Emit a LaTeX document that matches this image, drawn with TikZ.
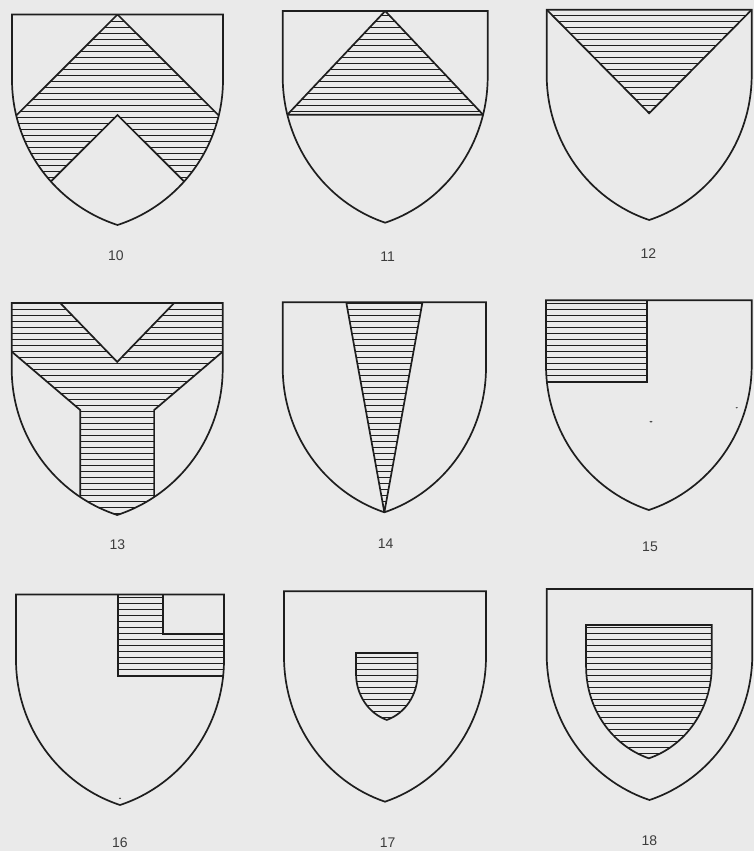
\documentclass[tikz,border=0pt]{standalone}
\usepackage{fontspec}
\setmainfont{Liberation Sans}
\definecolor{ink}{RGB}{30,30,30}
\definecolor{labelgray}{RGB}{60,60,60}
\definecolor{bg}{RGB}{234,234,234}
\newcommand\shieldclip[1]{\clip[#1] (-1,0) -- (-1,0.62) .. controls (-1,1.248) and (-0.597,1.8045) .. (0,2) .. controls (0.597,1.8045) and (1,1.248) .. (1,0.62) -- (1,0) -- cycle;}
\newcommand\shielddraw[1]{\draw[outline,#1] (-1,0) -- (-1,0.62) .. controls (-1,1.248) and (-0.597,1.8045) .. (0,2) .. controls (0.597,1.8045) and (1,1.248) .. (1,0.62) -- (1,0) -- cycle;}
\newcommand\hatchfill{\foreach \hy in {3.5,9.5,...,851}{\draw[hatchline] (0,\hy) -- (754,\hy);}}
\begin{document}
\begin{tikzpicture}[x=1pt,y=-1pt,
  outline/.style={draw=ink, line width=1.7pt, line join=miter},
  hatchline/.style={draw=ink, line width=1.2pt},
  lbl/.style={inner sep=0pt, font=\fontsize{14}{16}\selectfont, text=labelgray},
  speck/.style={fill=ink!80},
  s10/.style={shift={(117.5,14.5)}, xscale=105.5, yscale=105.25},
  s11/.style={shift={(385.2,11)}, xscale=102.5, yscale=105.85},
  s12/.style={shift={(649.2,9.7)}, xscale=102.5, yscale=105.15},
  s13/.style={shift={(117.2,303)}, xscale=105.5, yscale=106},
  s14/.style={shift={(384.35,302.2)}, xscale=101.65, yscale=105.05},
  s15/.style={shift={(648.85,300.3)}, xscale=102.85, yscale=104.85},
  s16/.style={shift={(120,594.5)}, xscale=104, yscale=105.25},
  s17/.style={shift={(385,591.2)}, xscale=101, yscale=105.25},
  s18/.style={shift={(649.5,589)}, xscale=102.8, yscale=105.5}]
\useasboundingbox (0,0) rectangle (754,851);
\fill[bg] (0,0) rectangle (754,851);

% ---------- 10: chevron ----------
\begin{scope}
  \shieldclip{s10}
  \begin{scope}
    \clip[s10] (0,0) -- (1.5,1.5) -- (1.5,2.455) -- (0,0.955) -- (-1.5,2.455) -- (-1.5,1.5) -- cycle;
    \hatchfill
  \end{scope}
  \draw[outline,s10] (-1.5,1.5) -- (0,0) -- (1.5,1.5) (1.5,2.455) -- (0,0.955) -- (-1.5,2.455);
\end{scope}
\shielddraw{s10}

% ---------- 11: triangle on chief line ----------
\begin{scope}
  \shieldclip{s11}
  \begin{scope}
    \clip[s11] (0,0) -- (-0.955,0.98) -- (0.955,0.98) -- cycle;
    \hatchfill
  \end{scope}
  \draw[outline,s11] (-0.955,0.98) -- (0,0) -- (0.955,0.98) (-1.2,0.98) -- (1.2,0.98);
\end{scope}
\shielddraw{s11}

% ---------- 12: inverted triangle ----------
\begin{scope}
  \shieldclip{s12}
  \begin{scope}
    \clip[s12] (-1,0) -- (0,0.985) -- (1,0) -- cycle;
    \hatchfill
  \end{scope}
  \draw[outline,s12] (-1,0) -- (0,0.985) -- (1,0);
\end{scope}
\shielddraw{s12}

% ---------- 13: pall ----------
\begin{scope}
  \shieldclip{s13}
  \begin{scope}
    \clip[s13] (-1.2,0) -- (-0.54,0) -- (0,0.556) -- (0.54,0) -- (1.2,0) -- (1.2,0.289) -- (0.35,1.01) -- (0.35,2.2) -- (-0.35,2.2) -- (-0.35,1.01) -- (-1.2,0.289) -- cycle;
    \hatchfill
  \end{scope}
  \draw[outline,s13] (-0.54,0) -- (0,0.556) -- (0.54,0)
    (-1.2,0.289) -- (-0.35,1.01) -- (-0.35,2.2)
    (1.2,0.289) -- (0.35,1.01) -- (0.35,2.2);
\end{scope}
\shielddraw{s13}

% ---------- 14: pile ----------
\begin{scope}
  \shieldclip{s14}
  \begin{scope}
    \clip[s14] (-0.375,0) -- (0,2) -- (0.375,0) -- cycle;
    \hatchfill
  \end{scope}
  \draw[outline,s14] (-0.375,0) -- (0,2) -- (0.375,0);
\end{scope}
\shielddraw{s14}

% ---------- 15: canton ----------
\begin{scope}
  \shieldclip{s15}
  \begin{scope}
    \clip[s15] (-1.1,0) rectangle (-0.02,0.776);
    \hatchfill
  \end{scope}
  \draw[outline,s15] (-1.1,0.776) -- (-0.02,0.776) -- (-0.02,0);
\end{scope}
\shielddraw{s15}
\fill[speck] (651,421.7) ellipse [x radius=1.6, y radius=0.9];
\fill[speck] (736.7,407.7) ellipse [x radius=1.2, y radius=0.7];

% ---------- 16: sinister L-shaped quarter ----------
\begin{scope}
  \shieldclip{s16}
  \begin{scope}
    \clip[s16] (-0.016,0) -- (0.416,0) -- (0.416,0.375) -- (1.2,0.375) -- (1.2,0.774) -- (-0.016,0.774) -- cycle;
    \hatchfill
  \end{scope}
  \draw[outline,s16] (-0.016,0) -- (0.416,0) -- (0.416,0.375) -- (1.2,0.375) (1.2,0.774) -- (-0.016,0.774) -- (-0.016,0);
\end{scope}
\shielddraw{s16}
\fill[speck] (120,798.3) ellipse [x radius=1.2, y radius=0.8];

% ---------- 17: small inescutcheon ----------
\begin{scope}
  \shieldclip{s17,shift={(0.018,0.587)},xscale=0.305,yscale=0.318}
  \hatchfill
\end{scope}
\shielddraw{s17,shift={(0.018,0.587)},xscale=0.305,yscale=0.318}
\shielddraw{s17}

% ---------- 18: large inescutcheon ----------
\begin{scope}
  \shieldclip{s18,shift={(-0.006,0.341)},xscale=0.611,yscale=0.632}
  \hatchfill
\end{scope}
\shielddraw{s18,shift={(-0.006,0.341)},xscale=0.611,yscale=0.632}
\shielddraw{s18}

% ---------- labels ----------
\node[lbl] (l10) at (116,256) {10};
\node[lbl] (l11) at (387.7,256.7) {11};
\node[lbl] (l12) at (648.3,253.3) {12};
\node[lbl] (l13) at (117.3,545) {13};
\node[lbl] (l14) at (385.7,543.3) {14};
\node[lbl] (l15) at (650,546.7) {15};
\node[lbl] (l16) at (120,842.5) {16};
\node[lbl] (l17) at (387.7,842.5) {17};
\node[lbl] (l18) at (649.3,841) {18};
\end{tikzpicture}
\end{document}
